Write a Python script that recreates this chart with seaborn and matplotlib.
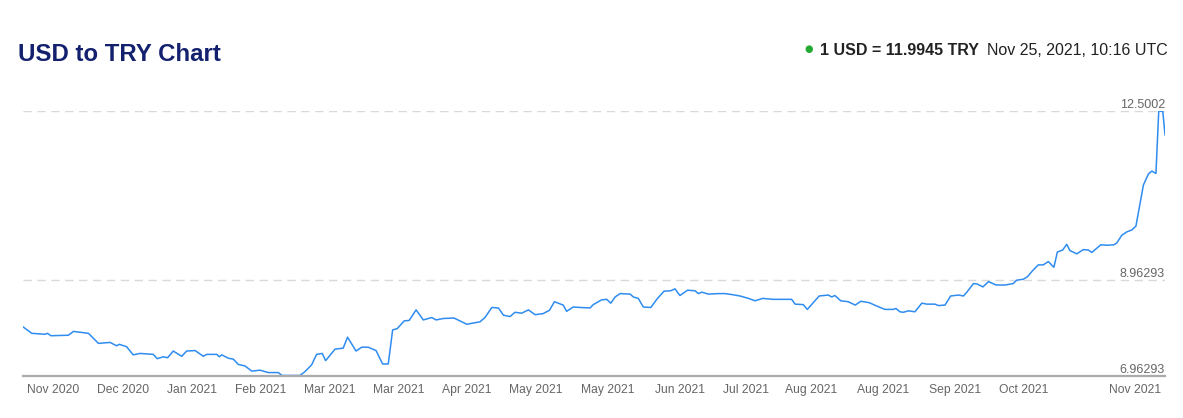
#!/usr/bin/env python3

import pandas as pd
import seaborn as sns
import matplotlib.pyplot as plt
import matplotlib.transforms as mtransforms

# days since Nov 25, 2020 and USD/TRY rate
days = [0, 2.9, 7.1, 7.9, 9.0, 14.6, 16.2, 21.0, 24.2, 27.9,
        30.0, 30.9, 33.2, 35.3, 37.5, 41.7, 43.0, 44.9, 46.3, 48.1,
        50.8, 52.4, 55.1, 57.7, 58.8, 62.0, 62.8, 63.6, 65.7, 67.3,
        68.9, 71.0, 73.2, 75.8, 78.5, 81.7, 82.8, 88.6, 90.2, 92.3,
        93.9, 95.7, 96.8, 99.8, 102.4, 103.8, 106.5, 108.3, 110.4, 112.9,
        115.0, 116.8, 118.2, 119.7, 121.9, 123.5, 125.7, 128.0, 130.7, 132.1,
        134.4, 137.8, 141.9, 146.1, 147.7, 149.9, 152.0, 153.6, 155.7, 157.3,
        159.4, 161.6, 163.7, 166.2, 168.3, 169.9, 172.7, 173.8, 175.9, 178.1,
        181.3, 182.3, 185.0, 186.6, 187.9, 189.3, 190.9, 194.1, 195.1, 196.7,
        198.3, 200.7, 202.6, 204.9, 207.1, 208.4, 210.0, 212.4, 214.8, 215.9,
        217.0, 219.1, 222.3, 224.4, 226.6, 229.2, 231.9, 234.0, 236.5, 239.8,
        245.7, 246.8, 249.4, 250.7, 254.5, 257.4, 258.5, 259.5, 261.4, 263.8,
        266.0, 267.8, 270.5, 272.9, 275.5, 278.2, 279.0, 280.3, 281.4, 283.0,
        285.1, 287.3, 288.9, 291.5, 292.6, 294.7, 296.5, 299.0, 300.6, 301.8,
        303.8, 305.0, 306.8, 308.6, 311.0, 313.9, 316.5, 317.6, 319.7, 321.0,
        322.7, 324.5, 326.1, 327.7, 329.5, 330.6, 332.3, 333.6, 334.6, 336.8,
        338.9, 340.5, 341.6, 344.5, 346.4, 348.7, 349.6, 351.2, 352.8, 354.4,
        355.7, 356.8, 358.1, 359.7, 360.8, 362.1, 363.0, 364.3, 365.0]

rates = [7.99, 7.85, 7.83, 7.85, 7.80, 7.81, 7.89, 7.85, 7.64, 7.66,
         7.59, 7.62, 7.57, 7.40, 7.43, 7.41, 7.32, 7.36, 7.34, 7.48,
         7.37, 7.48, 7.49, 7.37, 7.41, 7.41, 7.36, 7.40, 7.33, 7.31,
         7.20, 7.17, 7.06, 7.08, 7.03, 7.03, 6.97, 6.97, 7.05, 7.19,
         7.41, 7.43, 7.28, 7.52, 7.54, 7.77, 7.48, 7.56, 7.56, 7.49,
         7.21, 7.21, 7.92, 7.95, 8.11, 8.12, 8.34, 8.13, 8.18, 8.13,
         8.16, 8.17, 8.04, 8.09, 8.18, 8.39, 8.38, 8.23, 8.20, 8.29,
         8.27, 8.34, 8.24, 8.26, 8.33, 8.51, 8.44, 8.31, 8.40, 8.39,
         8.38, 8.45, 8.55, 8.56, 8.48, 8.61, 8.68, 8.67, 8.61, 8.58,
         8.40, 8.39, 8.56, 8.73, 8.74, 8.78, 8.64, 8.75, 8.74, 8.68,
         8.71, 8.67, 8.68, 8.68, 8.66, 8.63, 8.58, 8.53, 8.58, 8.56,
         8.56, 8.46, 8.45, 8.35, 8.63, 8.65, 8.61, 8.64, 8.53, 8.51,
         8.44, 8.52, 8.49, 8.42, 8.35, 8.35, 8.37, 8.30, 8.29, 8.32,
         8.30, 8.48, 8.46, 8.46, 8.43, 8.44, 8.63, 8.65, 8.63, 8.72,
         8.89, 8.88, 8.82, 8.93, 8.86, 8.86, 8.89, 8.96, 8.98, 9.03,
         9.16, 9.28, 9.28, 9.35, 9.23, 9.55, 9.59, 9.71, 9.58, 9.51,
         9.60, 9.59, 9.54, 9.70, 9.69, 9.70, 9.74, 9.90, 9.97, 10.01,
         10.09, 10.49, 10.95, 11.18, 11.24, 11.19, 12.50, 12.48, 11.99]

tick_days = [0, 32, 54, 76, 98, 120, 142, 164, 187, 210, 231, 252, 275, 298, 320, 365]
tick_labels = ["Nov 2020", "Dec 2020", "Jan 2021", "Feb 2021", "Mar 2021", "Mar 2021",
               "Apr 2021", "May 2021", "May 2021", "Jun 2021", "Jul 2021", "Aug 2021",
               "Aug 2021", "Sep 2021", "Oct 2021", "Nov 2021"]

y_levels = [6.96293, 8.96293, 12.5002]
y_labels = ["6.96293", "8.96293", "12.5002"]

title = "USD to TRY Chart"
rate_text = "1 USD = 11.9945 TRY"
date_text = "Nov 25, 2021, 10:16 UTC"

df = pd.DataFrame({"day": days, "rate": rates})

sns.set_style("white")
plt.rcParams["font.family"] = ["Liberation Sans", "DejaVu Sans"]

fig = plt.figure(figsize=(11.83, 4.18), dpi=100)
ax = fig.add_axes([0.0192, 0.101, 0.9656, 0.634])

sns.lineplot(data=df, x="day", y="rate", color="#2f8cf0", linewidth=1.1, ax=ax)

# dashed horizontal guides (not at the baseline)
for lv in y_levels[1:]:
    ax.axhline(lv, color="#d9d9d9", linewidth=1.0, linestyle=(0, (6, 4)), zorder=0)

# value labels sit above their guide, right aligned
trans = mtransforms.blended_transform_factory(ax.transAxes, ax.transData)
for lv, lab in zip(y_levels, y_labels):
    ax.text(1.0, lv, lab, transform=trans, ha="right", va="bottom",
            fontsize=9, color="#666666")

ax.set_xlim(0, 365)
ax.set_ylim(y_levels[0], y_levels[-1])
ax.set_xlabel("")
ax.set_ylabel("")
ax.set_yticks([])

ax.set_xticks(tick_days)
ax.set_xticklabels(tick_labels)
ax.tick_params(axis="x", direction="out", length=3.6, width=0.8, color="#888888",
               labelsize=8.7, labelcolor="#666666", pad=2.5)
labels = ax.get_xticklabels()
labels[0].set_ha("left")
labels[0].set_transform(labels[0].get_transform() +
                        mtransforms.ScaledTranslation(4 / 100, 0, fig.dpi_scale_trans))
labels[-1].set_ha("right")
labels[-1].set_transform(labels[-1].get_transform() +
                         mtransforms.ScaledTranslation(-4 / 100, 0, fig.dpi_scale_trans))

for side in ["top", "left", "right"]:
    ax.spines[side].set_visible(False)
ax.spines["bottom"].set_color("#aaaaaa")
ax.spines["bottom"].set_linewidth(1.6)

# header
fig.text(18 / 1183, 1 - 61 / 418, title, fontsize=17.3, fontweight="bold",
         color="#12206e", ha="left", va="baseline")
fig.text(1168 / 1183, 1 - 55 / 418, date_text, fontsize=11.5, color="#222222",
         ha="right", va="baseline")
fig.text(979 / 1183, 1 - 55 / 418, rate_text, fontsize=11.5, fontweight="bold",
         color="#222222", ha="right", va="baseline")
fig.text(809 / 1183, 1 - 49 / 418, "\u25CF", fontsize=7, color="#22aa33",
         family="DejaVu Sans", ha="center", va="center")

fig.savefig("out.png", dpi=100)
